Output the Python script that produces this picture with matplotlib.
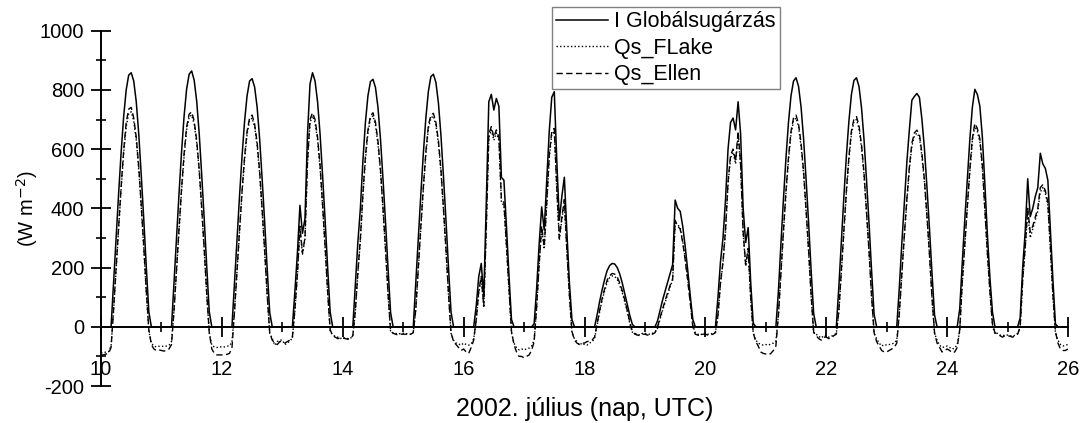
import numpy as np
import matplotlib
matplotlib.use('Agg')
import matplotlib.pyplot as plt
from matplotlib.ticker import MultipleLocator

# ---------------- data (hourly, 2002 July 10 00h ... July 26 00h) ----------------
start_day = 10
series_labels = ['I Globálsugárzás', 'Qs_FLake', 'Qs_Ellen']
x_title = '2002. július (nap, UTC)'
y_title = '(W m$^{-2}$)'
x_ticks = [10, 12, 14, 16, 18, 20, 22, 24, 26]
y_ticks = [-200, 0, 200, 400, 600, 800, 1000]

glob_rad = [
    0, 0, 0, 0, 0, 150, 300, 450, 590, 710, 800, 850, 858, 830, 760, 650, 510, 360, 200, 50, 0, 0, 0, 0,   # 10
    0, 0, 0, 0, 0, 150, 300, 452, 592, 712, 803, 853, 864, 833, 762, 652, 512, 362, 202, 50, 0, 0, 0, 0,   # 11
    0, 0, 0, 0, 0, 146, 292, 440, 575, 692, 780, 830, 838, 810, 742, 634, 498, 352, 195, 48, 0, 0, 0, 0,   # 12
    0, 0, 0, 0, 0, 120, 250, 410, 316, 365, 650, 820, 858, 830, 760, 650, 510, 360, 200, 50, 0, 0, 0, 0,   # 13
    0, 0, 0, 0, 0, 140, 285, 400, 560, 690, 780, 828, 836, 808, 740, 632, 497, 351, 195, 48, 0, 0, 0, 0,   # 14
    0, 0, 0, 0, 0, 148, 297, 447, 585, 705, 795, 845, 853, 825, 755, 646, 507, 358, 199, 50, 0, 0, 0, 0,   # 15
    0, 0, 0, 0, 0, 70, 169, 214, 101, 420, 760, 785, 732, 771, 745, 505, 495, 340, 175, 25, 0, 0, 0, 0,    # 16
    0, 0, 0, 0, 10, 130, 280, 405, 327, 490, 660, 775, 794, 560, 360, 440, 505, 320, 150, 25, 0, 0, 0, 0,  # 17
    0, 0, 0, 0, 0, 40, 85, 125, 160, 190, 207, 214, 212, 200, 178, 148, 112, 75, 38, 8, 0, 0, 0, 0,        # 18
    0, 0, 0, 0, 0, 20, 55, 90, 120, 150, 180, 210, 428, 400, 390, 340, 270, 190, 105, 25, 0, 0, 0, 0,      # 19
    0, 0, 0, 0, 0, 100, 220, 300, 430, 600, 690, 705, 665, 760, 650, 400, 285, 335, 150, 12, 0, 0, 0, 0,   # 20
    0, 0, 0, 0, 0, 120, 280, 430, 570, 690, 780, 830, 841, 812, 742, 635, 497, 350, 190, 45, 0, 0, 0, 0,   # 21
    0, 0, 0, 0, 0, 135, 290, 440, 578, 695, 785, 832, 841, 812, 740, 632, 495, 348, 190, 42, 0, 0, 0, 0,   # 22
    0, 0, 0, 0, 0, 130, 280, 420, 555, 665, 765, 778, 788, 775, 700, 600, 470, 330, 180, 40, 0, 0, 0, 0,   # 23
    0, 0, 0, 0, 0, 60, 214, 360, 496, 630, 740, 802, 785, 745, 640, 480, 310, 165, 50, 0, 0, 0, 0, 0,      # 24
    0, 0, 0, 0, 0, 30, 200, 320, 500, 372, 400, 440, 470, 586, 550, 535, 495, 330, 160, 10, 0, 0, 0, 0,    # 25
    0]                                                                                                     # 26

qs_flake = [
    -88, -88, -85, -84, -65, 55, 195, 332, 465, 585, 675, 720, 726, 695, 630, 530, 400, 262, 112, -15, -55, -65, -68, -66,
    -66, -66, -65, -62, -50, 55, 190, 328, 460, 575, 665, 708, 715, 685, 622, 525, 395, 255, 105, -20, -62, -68, -70, -68,
    -68, -68, -66, -64, -52, 52, 185, 320, 450, 562, 650, 695, 705, 675, 612, 515, 388, 250, 104, -22, -40, -62, -50, -45,
    -45, -60, -55, -48, -38, 55, 175, 330, 245, 295, 550, 690, 712, 690, 630, 535, 405, 265, 115, -15, -28, -32, -35, -40,
    -36, -38, -40, -40, -30, 50, 180, 290, 440, 565, 655, 703, 713, 680, 615, 522, 392, 255, 108, -18, -20, -22, -25, -22,
    -22, -22, -25, -25, -18, 55, 195, 332, 463, 580, 670, 705, 712, 680, 618, 522, 393, 255, 106, -22, -45, -55, -58, -62,
    -55, -60, -62, -58, -40, 20, 115, 165, 65, 330, 640, 665, 630, 655, 630, 420, 410, 272, 125, -20, -55, -70, -78, -75,
    -78, -75, -72, -65, -45, 65, 210, 332, 262, 410, 570, 650, 660, 460, 292, 362, 420, 252, 105, -20, -40, -50, -62, -55,
    -60, -62, -55, -50, -40, 5, 50, 90, 122, 150, 166, 172, 170, 160, 140, 115, 84, 50, 10, -18, -22, -25, -28, -22,
    -22, -25, -25, -22, -18, -5, 25, 55, 82, 110, 135, 158, 350, 345, 335, 290, 230, 160, 85, 5, -20, -25, -28, -22,
    -22, -25, -25, -22, -18, 35, 145, 215, 320, 480, 570, 590, 550, 645, 540, 315, 205, 255, 95, -22, -45, -55, -60, -62,
    -60, -62, -58, -55, -48, 38, 180, 318, 450, 562, 650, 695, 705, 675, 610, 516, 388, 250, 102, -20, -25, -32, -38, -30,
    -30, -35, -32, -28, -22, 50, 185, 322, 452, 565, 652, 692, 700, 670, 605, 512, 383, 248, 100, -22, -40, -55, -65, -60,
    -62, -60, -58, -55, -45, 40, 175, 302, 422, 530, 610, 645, 654, 640, 575, 487, 368, 240, 95, -22, -45, -62, -70, -68,
    -65, -70, -75, -72, -60, -15, 145, 272, 398, 520, 625, 677, 660, 625, 535, 392, 245, 115, 5, -25, -22, -28, -30, -28,
    -28, -30, -32, -28, -22, -5, 155, 262, 390, 300, 330, 360, 390, 455, 470, 450, 410, 262, 105, -20, -45, -60, -65, -62,
    -60]

qs_ellen = [
    -95, -95, -92, -90, -70, 60, 200, 340, 475, 595, 690, 735, 741, 705, 640, 540, 410, 270, 120, -10, -60, -75, -80, -78,
    -80, -82, -80, -75, -60, 55, 195, 335, 468, 585, 675, 718, 726, 695, 630, 532, 402, 262, 112, -20, -75, -90, -95, -95,
    -95, -95, -93, -90, -72, 50, 190, 325, 458, 572, 660, 705, 715, 685, 622, 525, 396, 258, 110, -20, -45, -55, -60, -50,
    -50, -55, -50, -45, -35, 60, 180, 340, 250, 300, 560, 700, 723, 700, 640, 545, 412, 272, 120, -10, -30, -35, -40, -38,
    -38, -40, -42, -40, -30, 55, 185, 300, 450, 575, 665, 712, 723, 690, 625, 530, 400, 262, 112, -15, -22, -25, -28, -25,
    -25, -25, -28, -25, -20, 60, 200, 340, 472, 590, 680, 715, 721, 690, 628, 530, 400, 262, 112, -20, -50, -60, -70, -80,
    -75, -85, -90, -70, -45, 25, 120, 170, 70, 340, 650, 676, 640, 665, 640, 430, 420, 280, 130, -15, -60, -85, -100, -100,
    -105, -100, -95, -80, -50, 70, 215, 340, 270, 420, 580, 660, 670, 470, 300, 370, 430, 260, 110, -15, -45, -55, -60, -55,
    -55, -50, -48, -45, -35, 10, 55, 95, 128, 158, 173, 180, 178, 168, 148, 122, 90, 55, 15, -15, -25, -28, -30, -25,
    -25, -28, -28, -25, -20, 0, 30, 60, 88, 115, 140, 162, 360, 340, 330, 285, 225, 155, 80, 0, -25, -28, -30, -25,
    -25, -28, -28, -25, -20, 40, 150, 220, 330, 490, 580, 600, 560, 660, 550, 320, 210, 265, 100, -20, -50, -65, -85, -90,
    -92, -95, -90, -80, -65, 40, 185, 325, 458, 572, 660, 705, 715, 685, 620, 525, 395, 258, 108, -18, -30, -40, -45, -35,
    -35, -40, -38, -30, -25, 55, 190, 330, 462, 575, 662, 702, 710, 680, 615, 520, 390, 255, 105, -20, -50, -65, -80, -85,
    -85, -80, -75, -70, -55, 45, 180, 310, 430, 540, 620, 655, 664, 650, 585, 495, 375, 245, 100, -20, -55, -70, -85, -80,
    -75, -80, -88, -85, -70, -10, 150, 280, 405, 530, 635, 687, 670, 635, 545, 400, 250, 120, 10, -20, -25, -30, -35, -30,
    -30, -32, -35, -30, -25, 0, 160, 270, 400, 320, 340, 370, 400, 470, 480, 460, 420, 270, 110, -15, -55, -75, -80, -80,
    -75]

# ---------------- plotting ----------------
plt.rcParams['font.family'] = ['Liberation Sans', 'DejaVu Sans']
plt.rcParams['axes.unicode_minus'] = False

W, H = 1086, 423
fig = plt.figure(figsize=(W / 100, H / 100), dpi=100)
ax = fig.add_axes([101 / W, 1 - 386 / H, (1068 - 101) / W, (386 - 30.7) / H])

def times(vals):
    return start_day + np.arange(len(vals)) / 24.0

ax.plot(times(glob_rad), glob_rad, color='black', lw=1.1, label=series_labels[0])
ax.plot(times(qs_flake), qs_flake, color='black', lw=1.0, linestyle=(0, (1, 1.6)), label=series_labels[1])
ax.plot(times(qs_ellen), qs_ellen, color='black', lw=1.0, linestyle=(0, (4.5, 2.5)), label=series_labels[2])

ax.set_xlim(x_ticks[0], x_ticks[-1])
ax.set_ylim(y_ticks[0], y_ticks[-1])

for s in ['top', 'right']:
    ax.spines[s].set_visible(False)
ax.spines['bottom'].set_position(('data', 0))
for s in ['left', 'bottom']:
    ax.spines[s].set_linewidth(1.4)

ax.set_xticks(x_ticks)
ax.set_yticks(y_ticks)
ax.xaxis.set_minor_locator(MultipleLocator(1))
ax.yaxis.set_minor_locator(MultipleLocator(100))

ax.tick_params(axis='both', which='major', direction='inout', length=14, width=1.3, labelsize=14.5)
ax.tick_params(axis='both', which='minor', direction='inout', length=7, width=1.2)
ax.tick_params(axis='x', which='major', pad=17)
ax.tick_params(axis='y', which='major', pad=5)

ax.set_xlabel(x_title, fontsize=18)
ax.xaxis.set_label_coords(0.5, -0.03)
ax.set_ylabel(y_title, fontsize=14.5)
ax.yaxis.set_label_coords(-0.063, 0.5)

leg = ax.legend(loc='upper left', bbox_to_anchor=(551.7 / W, 1 - 7 / H),
                bbox_transform=fig.transFigure, frameon=True, fancybox=False,
                edgecolor='#808080', framealpha=1, fontsize=15.5,
                handlelength=2.4, handletextpad=0.3, labelspacing=0.25,
                borderpad=0.2, borderaxespad=0)
leg.get_frame().set_linewidth(1.0)

fig.savefig('out.png', dpi=100)
